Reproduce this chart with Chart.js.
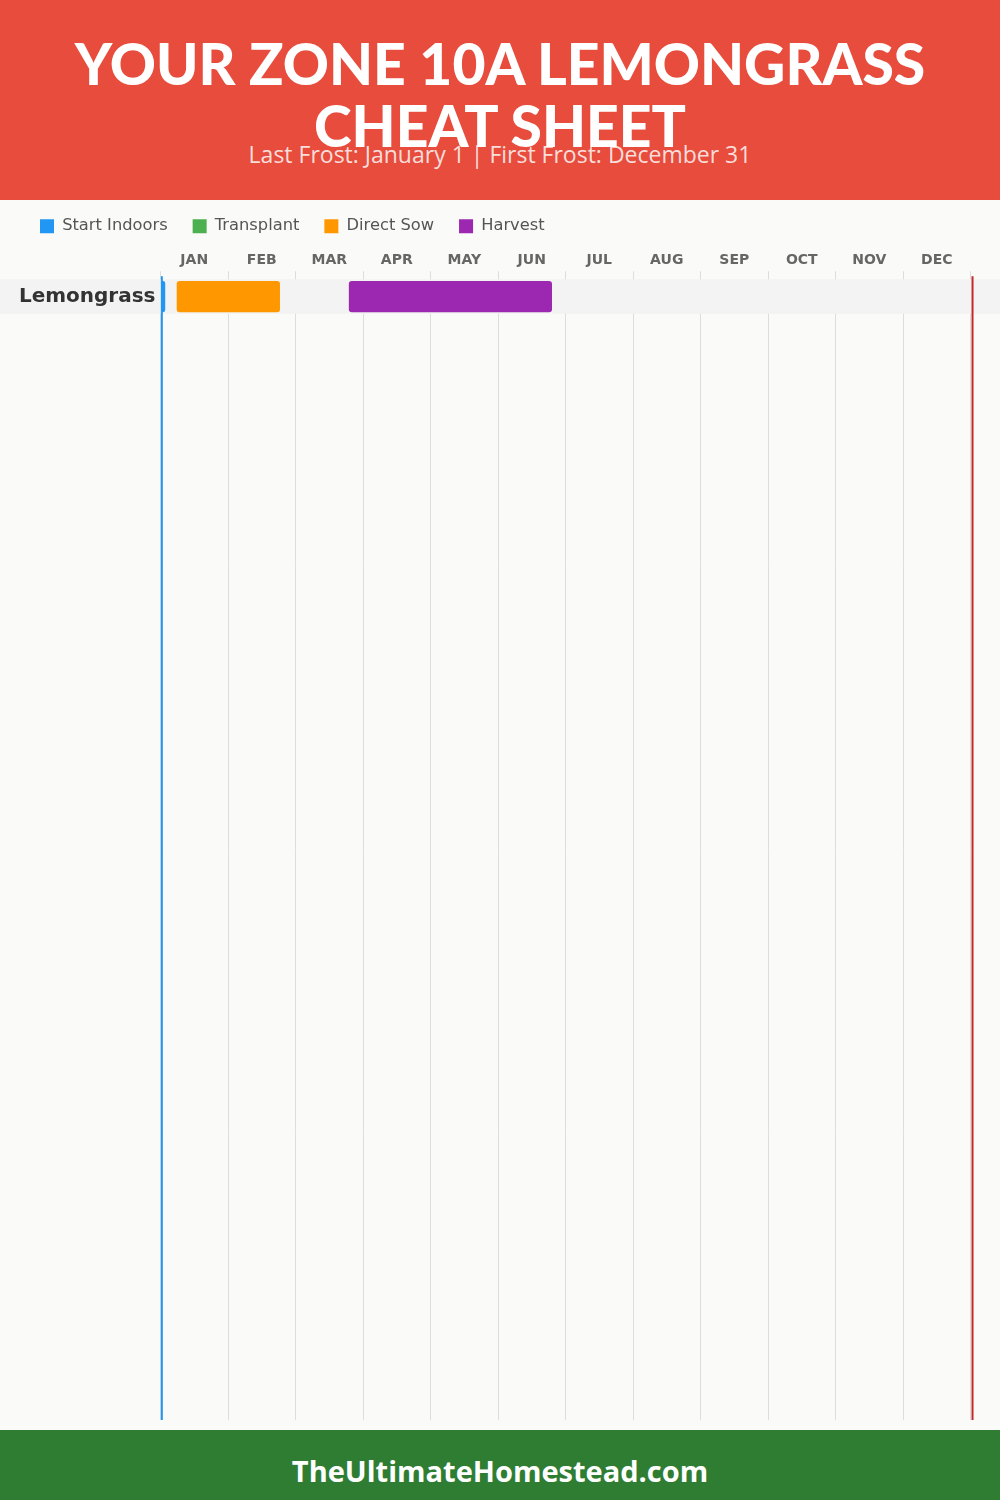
<!DOCTYPE html>
<html>
<head>
<meta charset="utf-8">
<script src="https://cdn.jsdelivr.net/npm/chart.js@4/dist/chart.umd.min.js"></script>
<style>
  html, body { margin: 0; padding: 0; }
  body { width: 1000px; height: 1500px; position: relative; background: #fafaf8; overflow: hidden; font-family: "Open Sans", sans-serif; }
  .header { position: absolute; left: 0; top: 0; width: 1000px; height: 200px; background: #e74c3c; z-index: 2; }
  .title { position: absolute; left: 0; top: 32px; width: 1000px; text-align: center; color: #fff;
           font-family: Lato, sans-serif; font-weight: 900; font-size: 57px; line-height: 62px; margin: 0; }
  .subtitle { position: absolute; left: 0; top: 142px; width: 1000px; text-align: center; color: rgba(255,255,255,0.82);
              font-size: 23px; line-height: 24px; }
  .chart-wrap { position: absolute; left: 0; top: 193px; width: 1000px; height: 1237px; }
  .footer { position: absolute; left: 0; top: 1430px; width: 1000px; height: 70px; background: #2e7d32; color: #fff;
            font-weight: 700; font-size: 29px; text-align: center; line-height: 70px; padding-top: 6px; box-sizing: border-box; }
</style>
</head>
<body>
<div class="header">
  <h1 class="title">YOUR ZONE 10A LEMONGRASS<br>CHEAT SHEET</h1>
  <div class="subtitle">Last Frost: January 1 | First Frost: December 31</div>
</div>
<div class="chart-wrap"><canvas id="chart"></canvas></div>
<div class="footer">TheUltimateHomestead.com</div>

<script>
// months on the top axis, one column each
const MONTHS = ['JAN', 'FEB', 'MAR', 'APR', 'MAY', 'JUN', 'JUL', 'AUG', 'SEP', 'OCT', 'NOV', 'DEC'];
const CROPS = ['Lemongrass'];

// windows per crop, in months from Jan 1 (0) to Dec 31 (12)
const START_INDOORS = [[0, 0.07]];
const TRANSPLANT = [null];
const DIRECT_SOW = [[0.24, 1.77]];
const HARVEST = [[2.79, 5.8]];

const LAST_FROST = 0.02;
const FIRST_FROST = 12.03;

const ROW_SLOTS = 33;
const rowLabels = CROPS.concat(Array(ROW_SLOTS - CROPS.length).fill(''));

const rowBand = {
  id: 'rowBand',
  beforeDatasetsDraw(c) {
    const { ctx, scales: { y } } = c;
    const half = (y.getPixelForValue(1) - y.getPixelForValue(0)) / 2;
    ctx.save();
    ctx.fillStyle = '#f3f3f3';
    CROPS.forEach((_, i) => {
      const mid = y.getPixelForValue(i);
      ctx.fillRect(0, mid - half, c.width, half * 2);
    });
    ctx.restore();
  }
};

const frostLines = {
  id: 'frostLines',
  afterDatasetsDraw(c) {
    const { ctx, chartArea, scales: { x } } = c;
    ctx.save();
    ctx.lineWidth = 2;
    [[LAST_FROST, '#2196f3'], [FIRST_FROST, '#c62828']].forEach(([v, col]) => {
      const px = x.getPixelForValue(v);
      ctx.strokeStyle = col;
      ctx.beginPath();
      ctx.moveTo(px, chartArea.top - 3);
      ctx.lineTo(px, chartArea.bottom);
      ctx.stroke();
    });
    ctx.restore();
  }
};

const bar = (label, data, color) => ({
  label,
  data,
  backgroundColor: color,
  borderWidth: 0,
  borderRadius: 3,
  borderSkipped: false,
  grouped: false,
  barPercentage: 0.9,
  categoryPercentage: 1
});

Chart.defaults.font.family = '"DejaVu Sans", sans-serif';

new Chart(document.getElementById('chart'), {
  type: 'bar',
  data: {
    labels: rowLabels,
    datasets: [
      bar('Start Indoors', START_INDOORS, '#2196f3'),
      bar('Transplant', TRANSPLANT, '#4caf50'),
      bar('Direct Sow', DIRECT_SOW, '#ff9800'),
      bar('Harvest', HARVEST, '#9c27b0')
    ]
  },
  options: {
    indexAxis: 'y',
    responsive: true,
    maintainAspectRatio: false,
    animation: false,
    layout: { padding: { left: 15, right: 29.5, top: 0, bottom: 10 } },
    plugins: {
      legend: {
        position: 'top',
        align: 'start',
        labels: {
          boxWidth: 14,
          boxHeight: 14,
          padding: 25,
          color: '#555',
          font: { size: 16.3 }
        }
      },
      tooltip: { enabled: false }
    },
    scales: {
      x: {
        position: 'top',
        min: 0,
        max: 12,
        afterBuildTicks: s => { s.ticks = MONTHS.map((_, i) => ({ value: i })).concat([{ value: 12 }]); },
        afterFit: s => { s.height = 35; },
        ticks: {
          padding: 3,
          labelOffset: 67.5 / 2,
          color: '#666',
          font: { size: 14, weight: 'bold' },
          callback: v => MONTHS[v] || ''
        },
        grid: { color: '#dddddd', lineWidth: 1, drawTicks: true, tickLength: 8, tickColor: '#dddddd' },
        border: { display: false }
      },
      y: {
        afterFit: s => { s.width = 145.5; s.paddingTop = 0; s.paddingBottom = 0; },
        ticks: {
          z: 1,
          padding: 5,
          autoSkip: false,
          color: '#333',
          font: { size: 20, weight: 'bold' }
        },
        grid: { display: false, drawTicks: false },
        border: { display: false }
      }
    }
  },
  plugins: [rowBand, frostLines]
});
</script>
</body>
</html>
